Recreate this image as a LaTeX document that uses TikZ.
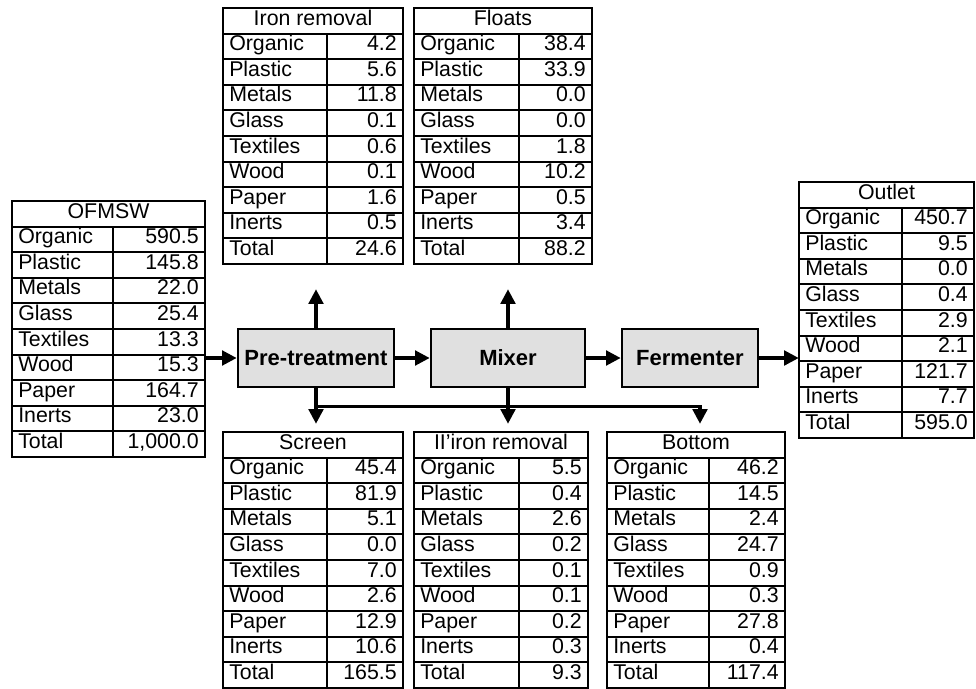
\documentclass[tikz,border=0pt]{standalone}
\usepackage{fontspec}
\setmainfont{Liberation Sans}
\usetikzlibrary{arrows.meta,calc,positioning,fit}

\tikzset{
  grid line/.style={line width=1.4pt},
  cell/.style={inner sep=0pt, font=\fontsize{16}{18}\selectfont, text height=1.6ex, text depth=0.4ex},
  unit/.style={draw, line width=2pt, fill=black!12, minimum height=43.5pt,
    font=\fontsize{16.5}{18}\selectfont\bfseries},
  flow/.style={line width=2.4pt, -{Triangle[length=11pt,width=11pt]}},
}

\newcommand{\rowh}{25.6}
% \flowtable{name}{left}{top}{width}{label column}{title}{label/value list}
\newcommand{\flowtable}[7]{%
  \coordinate (#1-nw) at (#2,#3);
  \coordinate (#1-se) at (#2+#4,#3+10*\rowh);
  \node[inner sep=0pt, fit=(#1-nw)(#1-se)] (#1) {};
  \draw[grid line] (#1-nw) rectangle (#1-se);
  \foreach \i in {1,...,9}
    \draw[grid line] (#2,#3+\i*\rowh) -- ++(#4,0);
  \draw[grid line] (#2+#5,#3+\rowh) -- (#2+#5,#3+10*\rowh);
  \node[cell] at (#2+#4/2,#3+\rowh/2) {#6};
  \foreach \lab/\val [count=\i] in {#7} {
    \node[cell, anchor=west] at (#2+6,#3+\i*\rowh+\rowh/2) {\lab};
    \node[cell, anchor=east] at (#2+#4-6,#3+\i*\rowh+\rowh/2) {\val};
  }
}

\begin{document}
\begin{tikzpicture}[x=0.75pt,y=-0.75pt]
  \useasboundingbox (0,0) rectangle (976,689);

  % mass tables
  \flowtable{ofmsw}{12}{201}{193}{101}{OFMSW}{Organic/590.5, Plastic/145.8,
    Metals/22.0, Glass/25.4, Textiles/13.3, Wood/15.3, Paper/164.7,
    Inerts/23.0, Total/{1,000.0}}
  \flowtable{iron}{223}{8}{180}{104}{Iron removal}{Organic/4.2, Plastic/5.6,
    Metals/11.8, Glass/0.1, Textiles/0.6, Wood/0.1, Paper/1.6,
    Inerts/0.5, Total/24.6}
  \flowtable{floats}{414}{8}{178}{105}{Floats}{Organic/38.4, Plastic/33.9,
    Metals/0.0, Glass/0.0, Textiles/1.8, Wood/10.2, Paper/0.5,
    Inerts/3.4, Total/88.2}
  \flowtable{outlet}{799}{182}{175}{103}{Outlet}{Organic/450.7, Plastic/9.5,
    Metals/0.0, Glass/0.4, Textiles/2.9, Wood/2.1, Paper/121.7,
    Inerts/7.7, Total/595.0}
  \flowtable{screen}{223}{432}{180}{104}{Screen}{Organic/45.4, Plastic/81.9,
    Metals/5.1, Glass/0.0, Textiles/7.0, Wood/2.6, Paper/12.9,
    Inerts/10.6, Total/165.5}
  \flowtable{iron2}{414}{432}{174}{105}{II'iron removal}{Organic/5.5, Plastic/0.4,
    Metals/2.6, Glass/0.2, Textiles/0.1, Wood/0.1, Paper/0.2,
    Inerts/0.3, Total/9.3}
  \flowtable{bottom}{607}{432}{178}{102}{Bottom}{Organic/46.2, Plastic/14.5,
    Metals/2.4, Glass/24.7, Textiles/0.9, Wood/0.3, Paper/27.8,
    Inerts/0.4, Total/117.4}

  % process units
  \node[unit, minimum width=117pt] (pre) at (316,358) {Pre-treatment};
  \node[unit, minimum width=115.5pt] (mix) at (508,358) {Mixer};
  \node[unit, minimum width=102pt] (ferm) at (690,358) {Fermenter};

  % main line
  \draw[flow] (ofmsw.east |- pre.west) -- (pre.west);
  \draw[flow] (pre.east) -- (mix.west);
  \draw[flow] (mix.east) -- (ferm.west);
  \draw[flow] (ferm.east) -- (outlet.west |- ferm.east);

  % side streams
  \draw[flow] (pre.north) -- ($(pre.north |- iron.south)+(0,25)$);
  \draw[flow] (mix.north) -- ($(mix.north |- floats.south)+(0,25)$);
  \coordinate (split) at ($(pre.south)+(0,18)$);
  \draw[flow] (pre.south) -- ($(pre.south |- screen.north)+(0,-8)$);
  \draw[flow] (mix.south) -- ($(mix.south |- iron2.north)+(0,-8)$);
  \draw[flow] (split) -| ($(bottom.north)+(4,-8)$);
\end{tikzpicture}
\end{document}
